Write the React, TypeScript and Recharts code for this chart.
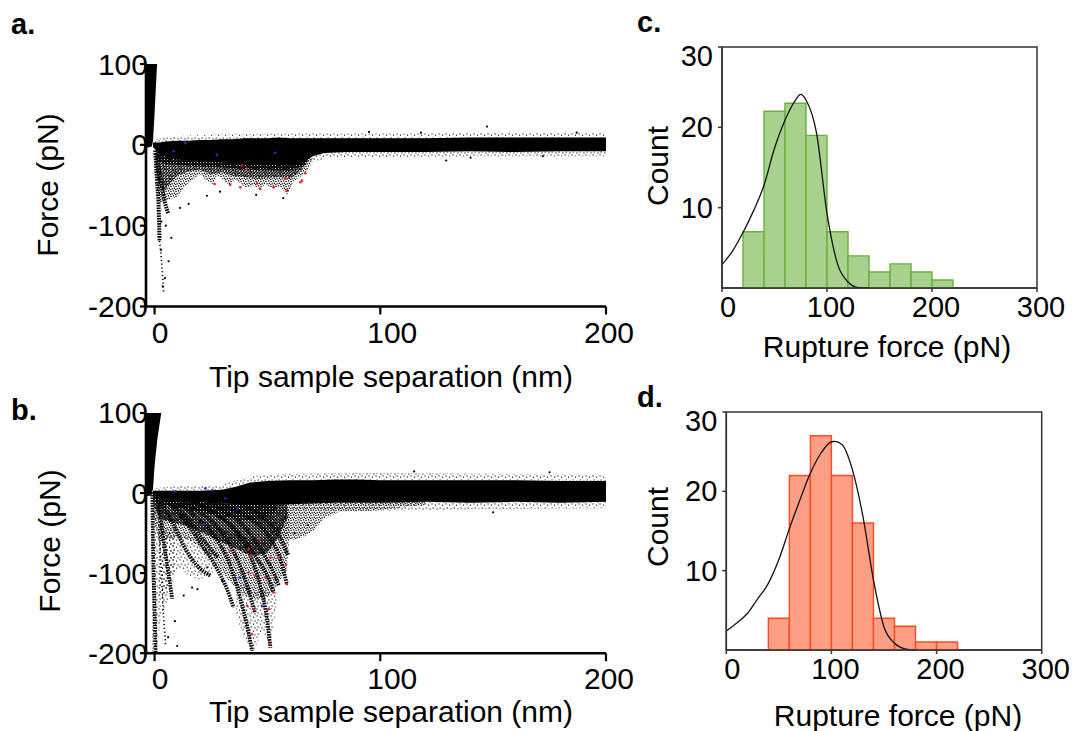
import React from 'react';
import { ComposedChart, XAxis, YAxis, Area, Line, Scatter, Bar, ReferenceArea } from 'recharts';

const FONT = '"Liberation Sans", Arial, Helvetica, sans-serif';

// ---------- Panel a (force curves, condition 1) ----------
const wedgeA = [
  { x: -3.8, r: [-4, 100] }, { x: -2.5, r: [-3, 100] }, { x: -1.2, r: [-2, 100] },
  { x: -0.7, r: [5, 100] }, { x: -0.1, r: [34, 100] }, { x: 0.5, r: [67, 100] }, { x: 1.1, r: [99, 100] },
];
const bandA = [
  { x: -0.7, r: [-3, 3] }, { x: 2, r: [-10, 3] }, { x: 5, r: [-15, 4] }, { x: 10, r: [-18, 5] },
  { x: 15, r: [-19, 5] }, { x: 20, r: [-20, 6] }, { x: 25, r: [-20, 6] }, { x: 30, r: [-22, 7] },
  { x: 35, r: [-23, 7] }, { x: 40, r: [-24, 8] }, { x: 45, r: [-25, 8] }, { x: 50, r: [-25, 8] },
  { x: 55, r: [-25, 9] }, { x: 60, r: [-26, 8] }, { x: 65, r: [-23, 8] }, { x: 70, r: [-14, 8] },
  { x: 75, r: [-10, 8] }, { x: 85, r: [-9, 8] }, { x: 100, r: [-9, 8] }, { x: 120, r: [-9, 8] },
  { x: 140, r: [-8, 9] }, { x: 160, r: [-9, 9] }, { x: 180, r: [-8, 9] }, { x: 200, r: [-8, 9] },
];
const fringeUpA = [
  { x: -0.5, r: [2, 7] }, { x: 10, r: [4, 11] }, { x: 30, r: [6, 13] }, { x: 60, r: [7, 14] },
  { x: 100, r: [7, 14] }, { x: 150, r: [8, 15] }, { x: 200, r: [8, 15] },
];
const fringeLowA = [
  { x: 68, r: [-22, -8] }, { x: 80, r: [-15, -7] }, { x: 100, r: [-15, -7] }, { x: 150, r: [-14, -7] }, { x: 200, r: [-14, -7] },
];
const sawA = [
  { x: 0.3, r: [-20, -2] }, { x: 1.2, r: [-55, -4] }, { x: 2.5, r: [-72, -6] }, { x: 4, r: [-70, -8] },
  { x: 5.5, r: [-69, -8] }, { x: 8, r: [-66, -10] }, { x: 9.9, r: [-65, -10] }, { x: 12.9, r: [-53, -10] },
  { x: 17.3, r: [-42, -10] }, { x: 20.2, r: [-36, -10] }, { x: 23, r: [-44, -10] }, { x: 26.1, r: [-49, -10] },
  { x: 27.5, r: [-38, -10] }, { x: 29.1, r: [-40, -10] }, { x: 33.5, r: [-51, -10] }, { x: 35.5, r: [-42, -10] },
  { x: 38, r: [-48, -10] }, { x: 40.9, r: [-53, -10] }, { x: 44, r: [-50, -10] }, { x: 46.8, r: [-56, -10] },
  { x: 49, r: [-48, -10] }, { x: 51.3, r: [-53, -10] }, { x: 55.7, r: [-52, -10] }, { x: 58.7, r: [-62, -10] },
  { x: 61.6, r: [-45, -10] }, { x: 66, r: [-37, -10] }, { x: 68.2, r: [-30, -10] }, { x: 70.4, r: [-14, -8] },
  { x: 74.9, r: [-10, -6] },
];
const innerA = [
  { x: 0.5, r: [-25, -3] }, { x: 2, r: [-50, -5] }, { x: 4, r: [-58, -6] }, { x: 7, r: [-48, -8] },
  { x: 10, r: [-38, -10] }, { x: 15, r: [-33, -10] }, { x: 20, r: [-31, -10] }, { x: 25, r: [-36, -10] },
  { x: 30, r: [-34, -10] }, { x: 35, r: [-39, -10] }, { x: 40, r: [-40, -10] }, { x: 45, r: [-42, -10] },
  { x: 50, r: [-41, -10] }, { x: 55, r: [-40, -10] }, { x: 60, r: [-42, -10] }, { x: 65, r: [-32, -10] },
  { x: 69, r: [-16, -8] },
];
const coreA = [
  { x: 1, r: [-20, -4] }, { x: 5, r: [-24, -8] }, { x: 15, r: [-26, -10] }, { x: 30, r: [-28, -10] },
  { x: 45, r: [-31, -10] }, { x: 60, r: [-32, -10] }, { x: 66, r: [-26, -10] }, { x: 69, r: [-14, -8] },
];
const strandsA = [
  [{ x: 0.3, y: -7 }, { x: 1.06, y: -44 }, { x: 1.8, y: -77 }, { x: 2.2, y: -119 }],
  [{ x: 0.8, y: -10 }, { x: 2.5, y: -40 }, { x: 4.5, y: -70 }, { x: 6, y: -85 }],
];
const thinStrandsA = [
  [{ x: 2.2, y: -119 }, { x: 3.3, y: -152 }, { x: 4.0, y: -183 }],
];
const dotsA = [
  { x: 7.4, y: -115 }, { x: 6.2, y: -144 }, { x: 15.1, y: -73 }, { x: 11.3, y: -78 }, { x: 23.2, y: -63 },
  { x: 29, y: -58 }, { x: 45, y: -62 }, { x: 57, y: -66 }, { x: 3, y: -95 }, { x: 2.8, y: -130 },
  { x: 4.6, y: -165 }, { x: 3.6, y: -175 }, { x: 5, y: -100 }, { x: 147.3, y: 22.6 }, { x: 129.2, y: -19.4 },
  { x: 95, y: 16 }, { x: 140, y: -16 }, { x: 118, y: 15 }, { x: 172, y: -14 }, { x: 187, y: 15 },
];
const redA = [
  { x: 26.6, y: -48.4 }, { x: 33.5, y: -49.3 }, { x: 40.9, y: -29.8 }, { x: 46.8, y: -54.7 },
  { x: 52.7, y: -52.6 }, { x: 58.7, y: -56.7 }, { x: 65.3, y: -44.3 }, { x: 66.8, y: -35.2 },
  { x: 38, y: -52.5 }, { x: 38.7, y: -25.6 }, { x: 45.4, y: -47.5 }, { x: 57.9, y: -42 }, { x: 64.6, y: -46.3 },
];
const blueA = [
  { x: 13.6, y: 2 }, { x: 8.4, y: -8 }, { x: 27.6, y: -12.4 }, { x: 53.5, y: -10 },
];

// ---------- Panel b (force curves, condition 2) ----------
const wedgeB = [
  { x: -3.8, r: [-4, 100] }, { x: -1.5, r: [-3, 100] }, { x: -0.7, r: [5, 100] },
  { x: 0, r: [34, 100] }, { x: 1.2, r: [67, 100] }, { x: 2.9, r: [99, 100] },
];
const bandB = [
  { x: -0.7, r: [-3, 3] }, { x: 5, r: [-6, 3] }, { x: 10, r: [-8, 3] }, { x: 20, r: [-10, 3] },
  { x: 30, r: [-12, 4] }, { x: 36, r: [-13, 8] }, { x: 42, r: [-15, 13] }, { x: 50, r: [-15, 15] },
  { x: 60, r: [-14, 16] }, { x: 70, r: [-13, 16] }, { x: 80, r: [-12, 17] }, { x: 90, r: [-12, 17] },
  { x: 100, r: [-12, 16] }, { x: 120, r: [-11, 16] }, { x: 140, r: [-12, 16] }, { x: 160, r: [-11, 16] },
  { x: 180, r: [-12, 15] }, { x: 200, r: [-11, 15] },
];
const fringeUpB = [
  { x: 0, r: [3, 6] }, { x: 10, r: [3, 9] }, { x: 30, r: [4, 10] }, { x: 36, r: [8, 16] },
  { x: 45, r: [13, 22] }, { x: 60, r: [16, 24] }, { x: 100, r: [16, 25] }, { x: 150, r: [16, 24] }, { x: 200, r: [15, 23] },
];
const fringeLowB = [
  { x: 60, r: [-22, -12] }, { x: 100, r: [-22, -11] }, { x: 150, r: [-20, -11] }, { x: 200, r: [-19, -10] },
];
const tailB = [
  { x: 45, r: [-40, -12] }, { x: 55, r: [-55, -12] }, { x: 61.6, r: [-58, -12] }, { x: 66, r: [-55, -12] },
  { x: 70.4, r: [-47, -12] }, { x: 74.8, r: [-32, -12] }, { x: 82, r: [-23, -12] }, { x: 97, r: [-22, -12] },
  { x: 109, r: [-18, -11] }, { x: 120, r: [-15, -11] },
];
const fanCoreB = [
  { x: -0.5, r: [-8, -2] }, { x: 3, r: [-14, -3] }, { x: 10, r: [-18, -5] }, { x: 20, r: [-24, -7] },
  { x: 30, r: [-30, -10] }, { x: 40, r: [-34, -13] }, { x: 48, r: [-32, -14] }, { x: 54, r: [-24, -14] },
];
const fanDenseB = [
  { x: -0.5, r: [-14, -2] }, { x: 2, r: [-30, -3] }, { x: 5, r: [-35, -5] }, { x: 10, r: [-38, -6] },
  { x: 15, r: [-42, -7] }, { x: 20, r: [-48, -8] }, { x: 25, r: [-55, -9] }, { x: 30, r: [-62, -10] },
  { x: 35, r: [-68, -12] }, { x: 40, r: [-75, -13] }, { x: 45, r: [-78, -14] }, { x: 50, r: [-74, -14] },
  { x: 55, r: [-55, -14] }, { x: 59, r: [-30, -14] },
];
const fanMedB = [
  { x: -0.5, r: [-30, -5] }, { x: 2, r: [-62, -10] }, { x: 5, r: [-58, -20] }, { x: 10, r: [-55, -25] },
  { x: 15, r: [-58, -30] }, { x: 20, r: [-68, -35] }, { x: 25, r: [-84, -40] }, { x: 30, r: [-100, -45] },
  { x: 35, r: [-115, -50] }, { x: 40, r: [-128, -55] }, { x: 45, r: [-132, -58] }, { x: 50, r: [-130, -55] },
  { x: 55, r: [-110, -40] }, { x: 58.5, r: [-98, -25] }, { x: 59.5, r: [-62, -20] },
];
const clusterB = [
  { x: 2, r: [-130, -50] }, { x: 5, r: [-125, -50] }, { x: 8, r: [-100, -50] }, { x: 12, r: [-95, -50] },
  { x: 16, r: [-105, -55] }, { x: 20, r: [-108, -60] }, { x: 26, r: [-100, -70] },
];
const axisStripB = [
  { x: -1.2, r: [-200, -20] }, { x: 1, r: [-200, -20] }, { x: 3, r: [-150, -40] }, { x: 6, r: [-135, -45] }, { x: 9, r: [-100, -45] },
];
const lowFanB = [
  { x: 36, r: [-150, -110] }, { x: 40, r: [-185, -115] }, { x: 44, r: [-198, -120] }, { x: 48, r: [-170, -120] },
  { x: 51, r: [-195, -120] }, { x: 54, r: [-140, -110] },
];
const strandsB = [
  [{ x: 0.4, y: 0 }, { x: 11.5, y: -28 }, { x: 20.3, y: -62 }, { x: 27.7, y: -95 }, { x: 32.1, y: -120 }, { x: 35, y: -143 }],
  [{ x: 0.4, y: 0 }, { x: 15.9, y: -24 }, { x: 26.2, y: -53 }, { x: 33.6, y: -91 }, { x: 38, y: -132 }, { x: 41, y: -166 }, { x: 43.2, y: -197 }],
  [{ x: 0.4, y: 0 }, { x: 23.3, y: -20 }, { x: 35, y: -45 }, { x: 42.4, y: -78 }, { x: 46.8, y: -116 }, { x: 49.8, y: -157 }, { x: 51.3, y: -193 }],
  [{ x: 0.4, y: 0 }, { x: 30.6, y: -16 }, { x: 42.4, y: -32 }, { x: 51.3, y: -57 }, { x: 55.7, y: -82 }, { x: 58.6, y: -114 }],
  [{ x: 0.4, y: 0 }, { x: 35, y: -12 }, { x: 46.8, y: -28 }, { x: 54.2, y: -49 }, { x: 59.3, y: -78 }],
  [{ x: 0.4, y: 0 }, { x: 26.2, y: -24 }, { x: 38, y: -53 }, { x: 45.4, y: -82 }, { x: 50.5, y: -107 }, { x: 52.7, y: -124 }],
  [{ x: 0.4, y: 0 }, { x: 7.1, y: -32 }, { x: 12.9, y: -66 }, { x: 18.9, y: -91 }, { x: 24.7, y: -103 }],
  [{ x: 0.4, y: 0 }, { x: 1.2, y: -3 }, { x: 4.1, y: -62 }, { x: 6.3, y: -103 }, { x: 7.8, y: -132 }],
  [{ x: 0.4, y: 0 }, { x: 19, y: -22 }, { x: 30, y: -50 }, { x: 37, y: -85 }, { x: 41.5, y: -120 }, { x: 44.5, y: -150 }],
  [{ x: 0.4, y: 0 }, { x: 28, y: -18 }, { x: 39, y: -40 }, { x: 47, y: -70 }, { x: 52, y: -95 }, { x: 55, y: -115 }],
  [{ x: 0.4, y: 0 }, { x: 14, y: -30 }, { x: 22, y: -60 }, { x: 28, y: -80 }],
  [{ x: -1.0, y: 1 }, { x: -0.6, y: -82 }, { x: 0, y: -145 }, { x: 0.44, y: -199 }],
];
const thinStrandsB = [
  [{ x: 1.2, y: -7 }, { x: 2.7, y: -82 }, { x: 3.8, y: -145 }, { x: 4.9, y: -191 }],
];
const dotsB = [
  { x: 12.9, y: -128 }, { x: 16.6, y: -118 }, { x: 10, y: -191 }, { x: 23.3, y: -93 }, { x: 19, y: -120 },
  { x: 6, y: -180 }, { x: 9, y: -160 }, { x: 30, y: -110 }, { x: 62, y: -50 }, { x: 68, y: -40 },
  { x: 115, y: 27 }, { x: 150, y: -24 }, { x: 175, y: 26 },
];
const redB = [
  { x: 33.6, y: -72.1 }, { x: 41.7, y: -70 }, { x: 42.4, y: -78.3 }, { x: 41.7, y: -99.2 }, { x: 44.6, y: -103.3 },
  { x: 49.1, y: -105.4 }, { x: 51.3, y: -80.4 }, { x: 54.9, y: -80.4 }, { x: 58.2, y: -90 }, { x: 58.6, y: -113.8 },
  { x: 52.7, y: -124.2 }, { x: 50.5, y: -145 }, { x: 41, y: -140.8 }, { x: 43.9, y: -145 }, { x: 43.2, y: -176.2 },
  { x: 51.3, y: -188.8 }, { x: 46.1, y: -57.5 },
];
const blueB = [
  { x: 9.3, y: 2.1 }, { x: 22.5, y: 5.8 }, { x: 25.5, y: 3.3 }, { x: 31.4, y: -6.7 }, { x: 36.5, y: -19.2 },
  { x: 21.8, y: -38.8 }, { x: 37.7, y: -105.4 }, { x: 47.6, y: -140.8 },
];

// ---------- Panels c & d (rupture force histograms, 20 pN bins from 0 to 300) ----------
const binCenters = [10, 30, 50, 70, 90, 110, 130, 150, 170, 190, 210, 230, 250, 270, 290];
const countsC = [0, 7, 22, 23, 19, 7, 4, 2, 3, 2, 1, 0, 0, 0, 0];
const countsD = [0, 0, 4, 22, 27, 22, 16, 4, 3, 1, 1, 0, 0, 0, 0];
const fitCX = [0, 10, 20, 30, 40, 50, 60, 70, 75, 80, 90, 100, 110, 120, 130, 140];
const fitCY = [2.9, 4.6, 6.9, 9.6, 12.8, 17.4, 20.9, 23.4, 24.1, 23.4, 19.3, 9.3, 3.0, 0.75, 0.05, 0];
const fitDX = [0, 10, 20, 29, 40, 50, 60, 70, 80, 90, 100, 103, 110, 120, 130, 140, 150, 160, 170, 180];
const fitDY = [2.4, 3.4, 4.6, 6.3, 8.4, 11.4, 15.3, 18.9, 22.3, 24.8, 26.25, 26.3, 25.9, 22.7, 16.8, 8.8, 2.9, 0.85, 0.15, 0];

const forceXTicks = [0, 100, 200];
const forceYTicks = [-200, -100, 0, 100];
const histXTicks = [0, 100, 200, 300];
const histYTicks = [10, 20, 30];

const histC = binCenters.map((x, i) => ({ x, count: countsC[i] > 0 ? countsC[i] : null }));
const histD = binCenters.map((x, i) => ({ x, count: countsD[i] > 0 ? countsD[i] : null }));
const fitC = fitCX.map((x, i) => ({ x, y: fitCY[i] }));
const fitD = fitDX.map((x, i) => ({ x, y: fitDY[i] }));

const dot = (r: number, color: string) => (p: any) => <circle cx={p.cx} cy={p.cy} r={r} fill={color} />;

const forceXShift: Record<number, number> = { 0: 5.5, 100: 12, 200: 3 };
const ForceXTick = (p: any) => {
  const v = p.payload.value;
  return (
    <text x={p.x + (forceXShift[v] ?? 0)} y={p.y + 17.5} textAnchor="middle" dominantBaseline="central"
      fontSize={30} fontFamily={FONT} fill="#000">{v}</text>
  );
};
const ForceYTick = (p: any) => (
  <text x={p.x + 8} y={p.y} textAnchor="end" dominantBaseline="central" fontSize={30} fontFamily={FONT} fill="#000">
    {p.payload.value}
  </text>
);
const HistXTick = (p: any) => {
  const v = p.payload.value;
  return (
    <text x={p.x + (v === 0 ? 6 : 4)} y={p.y + 14.7} textAnchor="middle" dominantBaseline="central"
      fontSize={29} fontFamily={FONT} fill="#000">{v}</text>
  );
};
const HistYTick = (p: any) => {
  const v = p.payload.value;
  return (
    <text x={p.x} y={p.y + (v === 30 ? 9 : 0)} textAnchor="end" dominantBaseline="central"
      fontSize={29} fontFamily={FONT} fill="#000">{v}</text>
  );
};

const patterns = (id: string) => (
  <defs>
    <pattern id={`${id}-vdense`} width={3} height={3} patternUnits="userSpaceOnUse">
      <rect x={0} y={0} width={1.8} height={1.6} fill="#000" />
      <rect x={1.5} y={1.3} width={1.5} height={1.7} fill="#000" />
      <rect x={0.2} y={2.0} width={1.0} height={1.0} fill="#000" />
    </pattern>
    <pattern id={`${id}-dense`} width={3} height={3} patternUnits="userSpaceOnUse">
      <rect x={0.1} y={0.2} width={1.4} height={1.3} fill="#000" />
      <rect x={1.6} y={0.9} width={1.3} height={1.3} fill="#000" />
      <rect x={0.6} y={1.9} width={1.3} height={1.1} fill="#000" />
    </pattern>
    <pattern id={`${id}-med`} width={5} height={5} patternUnits="userSpaceOnUse">
      <rect x={0.4} y={0.8} width={1.3} height={1.3} fill="#000" />
      <rect x={2.9} y={0.2} width={1.3} height={1.3} fill="#000" />
      <rect x={3.7} y={2.6} width={1.3} height={1.3} fill="#000" />
      <rect x={1.5} y={3.2} width={1.3} height={1.3} fill="#000" />
      <rect x={0.1} y={4.0} width={1.0} height={1.0} fill="#000" />
    </pattern>
    <pattern id={`${id}-sparse`} width={7} height={7} patternUnits="userSpaceOnUse">
      <rect x={1} y={1.6} width={1.1} height={1.1} fill="#000" />
      <rect x={4.5} y={0.4} width={1.1} height={1.1} fill="#000" />
      <rect x={5.6} y={4.5} width={1.1} height={1.1} fill="#000" />
      <rect x={2.4} y={5.4} width={1.1} height={1.1} fill="#000" />
    </pattern>
  </defs>
);

const rangeArea = (data: any[], fill: string, key: string) => (
  <Area key={key} data={data} dataKey="r" type="linear" stroke="none" fill={fill} fillOpacity={1}
    isAnimationActive={false} dot={false} activeDot={false} />
);

type ForceProps = {
  id: string; height: number;
  wedge: any[]; band: any[]; fringeUp: any[]; fringeLow: any[];
  med: any[][]; dense: any[][]; sparse: any[][]; vdense: any[][];
  strands: any[][]; thin: any[][]; dots: any[]; red: any[]; blue: any[]; strandWidth: number;
};

function ForcePanel(p: ForceProps) {
  return (
    <ComposedChart width={640} height={p.height} margin={{ top: 64, right: 34, left: 0, bottom: 13.5 }}>
      {patterns(p.id)}
      <XAxis type="number" dataKey="x" domain={[-3.8, 200]} ticks={forceXTicks} allowDataOverflow height={40}
        axisLine={{ stroke: '#000', strokeWidth: 2.6 }} tickLine={{ stroke: '#000', strokeWidth: 2.2 }}
        tickSize={8} tickMargin={0} tick={ForceXTick} />
      <YAxis type="number" dataKey="y" domain={[-200, 100]} ticks={forceYTicks} allowDataOverflow width={146}
        axisLine={{ stroke: '#000', strokeWidth: 2.6 }} tickLine={{ stroke: '#000', strokeWidth: 2.2 }}
        tickSize={6} tickMargin={0} tick={ForceYTick} />
      {p.sparse.map((d, i) => rangeArea(d, `url(#${p.id}-sparse)`, `s${i}`))}
      {rangeArea(p.fringeUp, `url(#${p.id}-sparse)`, 'fu')}
      {rangeArea(p.fringeLow, `url(#${p.id}-sparse)`, 'fl')}
      {p.med.map((d, i) => rangeArea(d, `url(#${p.id}-med)`, `m${i}`))}
      {p.dense.map((d, i) => rangeArea(d, `url(#${p.id}-dense)`, `d${i}`))}
      {p.vdense.map((d, i) => rangeArea(d, `url(#${p.id}-vdense)`, `v${i}`))}
      {rangeArea(p.band, '#000', 'band')}
      {rangeArea(p.wedge, '#000', 'wedge')}
      {p.strands.map((s, i) => (
        <Line key={`st${i}`} data={s} dataKey="y" type="monotone" stroke="#000" strokeWidth={p.strandWidth}
          strokeDasharray="1.6 1" dot={false} activeDot={false} isAnimationActive={false} />
      ))}
      {p.thin.map((s, i) => (
        <Line key={`th${i}`} data={s} dataKey="y" type="monotone" stroke="#000" strokeWidth={1.6}
          strokeDasharray="1.2 2.6" dot={false} activeDot={false} isAnimationActive={false} />
      ))}
      <Scatter data={p.dots} shape={dot(1.1, '#000')} isAnimationActive={false} />
      <Scatter data={p.blue} shape={dot(1.3, '#1f2bd6')} isAnimationActive={false} />
      <Scatter data={p.red} shape={dot(1.3, '#ee1c1c')} isAnimationActive={false} />
    </ComposedChart>
  );
}

type HistProps = {
  data: any[]; fit: any[]; fill: string; stroke: string; right: number; yWidth: number; height: number;
};

const HIST_W = 444;

function HistPanel(p: HistProps) {
  return (
    <ComposedChart width={HIST_W} height={p.height} data={p.data} margin={{ top: 47, right: p.right, left: 0, bottom: 12 }}
      barCategoryGap={0} barGap={0}>
      <XAxis xAxisId="bins" type="category" dataKey="x" hide orientation="top" height={0} padding={{ left: 0, right: 0 }} />
      <XAxis xAxisId="num" type="number" dataKey="x" domain={[0, 300]} ticks={histXTicks} allowDataOverflow height={40}
        axisLine={{ stroke: '#333', strokeWidth: 1.5 }} tickLine={{ stroke: '#333', strokeWidth: 1.5 }}
        tickSize={4} tickMargin={0} tick={HistXTick} />
      <YAxis type="number" domain={[0, 30]} ticks={histYTicks} allowDataOverflow width={p.yWidth}
        axisLine={{ stroke: '#333', strokeWidth: 1.5 }} tickLine={{ stroke: '#333', strokeWidth: 1.5 }}
        tickSize={4} tickMargin={5} tick={HistYTick} />
      <Bar xAxisId="bins" dataKey="count" fill={p.fill} stroke={p.stroke} strokeWidth={1.4} isAnimationActive={false} />
      <Line xAxisId="num" data={p.fit} dataKey="y" type="monotone" stroke="#111" strokeWidth={1.3} dot={false}
        activeDot={false} isAnimationActive={false} />
      <ReferenceArea xAxisId="num" x1={0} x2={300} y1={0} y2={30} fill="none" stroke="#333" strokeWidth={1.5} />
    </ComposedChart>
  );
}

export default function App() {
  return (
    <div style={{ position: 'absolute', left: 0, top: 0, width: 1084, height: 731, background: '#fff', overflow: 'hidden' }}>
      <div style={{ position: 'absolute', left: 0, top: 0 }}>
        <ForcePanel id="pa" height={360} wedge={wedgeA} band={bandA} fringeUp={fringeUpA} fringeLow={fringeLowA}
          med={[sawA]} dense={[innerA]} sparse={[]} vdense={[coreA]} strands={strandsA} thin={thinStrandsA}
          dots={dotsA} red={redA} blue={blueA} strandWidth={4} />
      </div>
      <div style={{ position: 'absolute', left: 0, top: 349.3 }}>
        <ForcePanel id="pb" height={357.7} wedge={wedgeB} band={bandB} fringeUp={fringeUpB} fringeLow={fringeLowB}
          med={[tailB, fanMedB]} dense={[]} sparse={[clusterB, axisStripB, lowFanB]} vdense={[fanDenseB, fanCoreB]}
          strands={strandsB} thin={thinStrandsB} dots={dotsB} red={redB} blue={blueB} strandWidth={3.8} />
      </div>
      <div style={{ position: 'absolute', left: 640, top: 0 }}>
        <HistPanel data={histC} fit={fitC} fill="#a9d18e" stroke="#6ab03a" right={HIST_W - 397} yWidth={82} height={340} />
      </div>
      <div style={{ position: 'absolute', left: 640, top: 365 }}>
        <HistPanel data={histD} fit={fitD} fill="#fd9f85" stroke="#ff4b1f" right={HIST_W - 401.7} yWidth={86.3} height={337} />
      </div>
      <svg width={1084} height={731} style={{ position: 'absolute', left: 0, top: 0, pointerEvents: 'none' }}
        fontFamily={FONT} fill="#000">
        <text x={11} y={34} fontSize={29} fontWeight="bold">a.</text>
        <text x={11} y={420} fontSize={29} fontWeight="bold">b.</text>
        <text x={637} y={32} fontSize={29} fontWeight="bold">c.</text>
        <text x={637} y={407} fontSize={29} fontWeight="bold">d.</text>
        <text x={47} y={185} fontSize={30} textAnchor="middle" dominantBaseline="central" transform="rotate(-90 47 185)">Force (pN)</text>
        <text x={49} y={541} fontSize={30} textAnchor="middle" dominantBaseline="central" transform="rotate(-90 49 541)">Force (pN)</text>
        <text x={391} y={376} fontSize={30} textAnchor="middle" dominantBaseline="central">Tip sample separation (nm)</text>
        <text x={391} y={711} fontSize={30} textAnchor="middle" dominantBaseline="central">Tip sample separation (nm)</text>
        <text x={657.5} y={166} fontSize={30} textAnchor="middle" dominantBaseline="central" transform="rotate(-90 657.5 166)">Count</text>
        <text x={657.5} y={527} fontSize={30} textAnchor="middle" dominantBaseline="central" transform="rotate(-90 657.5 527)">Count</text>
        <text x={887} y={346} fontSize={30} textAnchor="middle" dominantBaseline="central">Rupture force (pN)</text>
        <text x={898} y={715} fontSize={30} textAnchor="middle" dominantBaseline="central">Rupture force (pN)</text>
      </svg>
    </div>
  );
}
